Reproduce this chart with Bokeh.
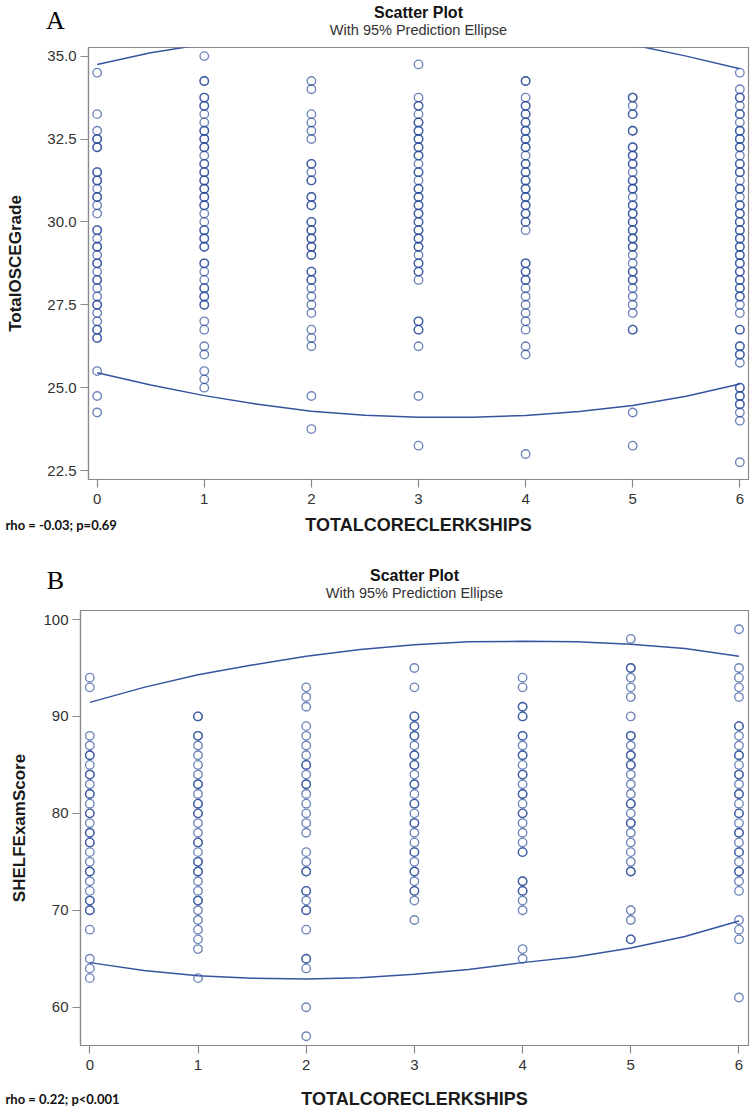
from bokeh.plotting import figure
from bokeh.models import ColumnDataSource, FixedTicker, Label, NumeralTickFormatter, Range1d
from bokeh.embed import file_html
from bokeh.resources import INLINE

# ---------------- data ----------------
clerkships = [0, 1, 2, 3, 4, 5, 6]

# Panel A: TotalOSCEGrade by number of core clerkships (duplicates = overlapping points)
osce_0 = [34.5, 33.25, 32.75, 32.5, 32.5, 32.25, 32.25, 31.5, 31.5, 31.25, 31.25, 31.0, 30.75, 30.75,
          30.5, 30.25, 29.75, 29.75, 29.5, 29.25, 29.25, 29.0, 28.75, 28.75, 28.5, 28.25, 28.25, 28.0,
          27.75, 27.5, 27.5, 27.25, 27.0, 26.75, 26.75, 26.5, 26.5, 25.5, 24.75, 24.25]
osce_1 = [35.0, 34.25, 34.25, 33.75, 33.75, 33.5, 33.5, 33.25, 33.0, 32.75, 32.75, 32.5, 32.5, 32.25,
          32.25, 32.0, 31.75, 31.75, 31.5, 31.5, 31.25, 31.25, 31.0, 31.0, 30.75, 30.75, 30.5, 30.5,
          30.25, 30.0, 29.75, 29.75, 29.5, 29.5, 29.25, 29.25, 28.75, 28.75, 28.5, 28.25, 28.0, 28.0,
          27.75, 27.75, 27.5, 27.5, 27.0, 26.75, 26.25, 26.0, 25.5, 25.25, 25.0]
osce_2 = [34.25, 34.0, 33.25, 33.0, 32.75, 32.5, 31.75, 31.75, 31.5, 31.25, 31.25, 30.75, 30.75, 30.5,
          30.5, 30.0, 30.0, 29.75, 29.75, 29.5, 29.5, 29.25, 29.25, 29.0, 29.0, 28.5, 28.5, 28.25,
          28.25, 28.0, 27.75, 27.5, 27.25, 26.75, 26.5, 26.25, 24.75, 23.75]
osce_3 = [34.75, 33.75, 33.5, 33.5, 33.25, 33.0, 33.0, 32.75, 32.75, 32.5, 32.5, 32.25, 32.25, 32.0,
          32.0, 31.75, 31.5, 31.5, 31.25, 31.0, 31.0, 30.75, 30.75, 30.5, 30.5, 30.25, 30.25, 30.0,
          30.0, 29.75, 29.75, 29.5, 29.5, 29.25, 29.25, 29.0, 28.75, 28.75, 28.5, 28.5, 28.25, 27.0,
          27.0, 26.75, 26.75, 26.25, 24.75, 23.25]
osce_4 = [34.25, 34.25, 33.75, 33.5, 33.5, 33.25, 33.25, 33.0, 33.0, 32.75, 32.75, 32.5, 32.5, 32.25,
          32.25, 32.0, 31.75, 31.75, 31.5, 31.5, 31.25, 31.25, 31.0, 31.0, 30.75, 30.75, 30.5, 30.5,
          30.25, 30.25, 30.0, 30.0, 29.75, 28.75, 28.75, 28.5, 28.5, 28.25, 28.25, 28.0, 27.75, 27.5,
          27.25, 27.0, 26.75, 26.25, 26.0, 23.0]
osce_5 = [33.75, 33.75, 33.5, 33.25, 33.25, 32.75, 32.75, 32.25, 32.25, 32.0, 32.0, 31.75, 31.75, 31.5,
          31.25, 31.25, 31.0, 31.0, 30.75, 30.5, 30.5, 30.25, 30.25, 30.0, 30.0, 29.75, 29.75, 29.5,
          29.5, 29.25, 29.25, 29.0, 28.75, 28.5, 28.5, 28.25, 28.25, 28.0, 27.75, 27.5, 27.25, 26.75,
          26.75, 24.25, 23.25]
osce_6 = [34.5, 34.0, 33.75, 33.75, 33.5, 33.25, 33.25, 33.0, 32.75, 32.75, 32.5, 32.5, 32.25, 32.25,
          32.0, 31.75, 31.75, 31.5, 31.5, 31.25, 31.0, 31.0, 30.75, 30.5, 30.5, 30.25, 30.25, 30.0,
          30.0, 29.75, 29.75, 29.5, 29.5, 29.25, 29.25, 29.0, 29.0, 28.75, 28.75, 28.5, 28.5, 28.25,
          28.25, 28.0, 28.0, 27.75, 27.75, 27.5, 27.25, 26.75, 26.75, 26.25, 26.25, 26.0, 26.0, 25.75,
          25.0, 25.0, 24.75, 24.75, 24.5, 24.5, 24.25, 24.0, 22.75]

# Panel B: SHELFExamScore by number of core clerkships
shelf_0 = [94, 93, 88, 87, 86, 86, 85, 84, 84, 83, 82, 82, 81, 80, 80, 79, 78, 78, 77, 77, 76, 75, 74,
           74, 73, 72, 71, 71, 70, 70, 68, 65, 64, 63]
shelf_1 = [90, 90, 88, 88, 87, 86, 85, 84, 83, 83, 82, 81, 81, 80, 80, 79, 78, 77, 77, 76, 75, 75, 74,
           74, 73, 72, 71, 71, 70, 69, 68, 67, 66, 63]
shelf_2 = [93, 92, 91, 89, 88, 87, 86, 85, 85, 84, 83, 83, 82, 81, 80, 79, 78, 76, 75, 74, 74, 72, 72,
           71, 70, 70, 68, 65, 65, 64, 60, 57]
shelf_3 = [95, 93, 90, 90, 89, 89, 88, 88, 87, 86, 86, 85, 85, 84, 83, 83, 82, 81, 81, 80, 79, 79, 78,
           77, 76, 76, 75, 74, 74, 73, 72, 72, 71, 69]
shelf_4 = [94, 93, 91, 91, 90, 90, 88, 88, 87, 86, 86, 85, 84, 84, 83, 82, 82, 81, 80, 80, 79, 78, 77,
           76, 76, 73, 73, 72, 72, 71, 70, 66, 65]
shelf_5 = [98, 95, 95, 94, 93, 92, 90, 88, 88, 87, 86, 86, 85, 85, 84, 83, 82, 81, 81, 80, 79, 79, 78,
           77, 76, 75, 74, 74, 70, 69, 67, 67]
shelf_6 = [99, 95, 94, 93, 92, 89, 89, 88, 87, 86, 86, 85, 84, 84, 83, 82, 82, 81, 80, 80, 79, 78, 78,
           77, 76, 76, 75, 74, 74, 73, 72, 69, 68, 67, 61]

# 95% prediction ellipse boundaries
ellipse_x = [0, 0.5, 1, 1.5, 2, 2.5, 3, 3.5, 4, 4.5, 5, 5.5, 6]
osce_upper = [34.75, 35.1, 35.36, 35.58, 35.75, 35.82, 35.85, 35.8, 35.72, 35.55, 35.34, 35.0, 34.62]
osce_lower = [25.45, 25.08, 24.76, 24.5, 24.29, 24.17, 24.11, 24.11, 24.16, 24.28, 24.46, 24.74, 25.11]
shelf_upper = [91.45, 93.0, 94.3, 95.3, 96.2, 96.9, 97.4, 97.7, 97.75, 97.7, 97.45, 97.0, 96.2]
shelf_lower = [64.6, 63.8, 63.25, 63.0, 62.9, 63.05, 63.4, 63.9, 64.6, 65.2, 66.1, 67.3, 68.9]

osce_ticks = [22.5, 25.0, 27.5, 30.0, 32.5, 35.0]
shelf_ticks = [60, 70, 80, 90, 100]

# ---------------- styling ----------------
BLUE = "#2a4b9a"
GRAY = "#8a8a8a"
SANS = "Liberation Sans"
W = 756


def long_form(columns):
    xs, ys = [], []
    for k, vals in zip(clerkships, columns):
        xs.extend([k] * len(vals))
        ys.extend(vals)
    return ColumnDataSource(dict(x=xs, y=ys))


def text_strip(h):
    """A figure with no axes whose frame fills the canvas (pixel-like coordinates, y down)."""
    t = figure(width=W, height=h, x_range=Range1d(0, W), y_range=Range1d(h, 0),
               output_backend="svg", toolbar_location=None,
               x_axis_location=None, y_axis_location=None,
               min_border_left=0, min_border_right=0, min_border_top=0, min_border_bottom=0)
    t.title_location = None
    t.outline_line_color = None
    t.xgrid.visible = False
    t.ygrid.visible = False
    t.background_fill_color = "white"
    t.border_fill_color = "white"
    return t


def header(letter, h, cx, title_y, sub_y, letter_y):
    t = text_strip(h)
    t.add_layout(Label(x=cx, y=title_y, text="Scatter Plot", text_font=SANS,
                       text_font_style="bold", text_font_size="16px", text_align="center",
                       text_baseline="middle", text_color="#111111"))
    t.add_layout(Label(x=cx, y=sub_y, text="With 95% Prediction Ellipse", text_font=SANS,
                       text_font_size="14.5px", text_align="center", text_baseline="middle",
                       text_color="#333333"))
    t.add_layout(Label(x=55, y=letter_y, text=letter, text_font="Liberation Serif",
                       text_font_size="26px", text_align="center", text_baseline="middle",
                       text_color="#000000"))
    return t


def footer(rho, h, cx, y):
    t = text_strip(h)
    t.add_layout(Label(x=5, y=y, text=rho, text_font="Lato", text_font_style="bold",
                       text_font_size="13px", text_align="left", text_baseline="middle",
                       text_color="#111111"))
    t.add_layout(Label(x=cx, y=y, text="TOTALCORECLERKSHIPS", text_font=SANS,
                       text_font_style="bold", text_font_size="18px", text_align="center",
                       text_baseline="middle", text_color="#1a1a1a"))
    return t


def main_panel(ycols, upper, lower, yticks, ylabel, x_range, y_range, h, left, bottom,
               ylab_standoff, fmt):
    p = figure(width=W, height=h, x_range=x_range, y_range=y_range,
               output_backend="svg", toolbar_location=None,
               min_border_left=left, min_border_right=8,
               min_border_top=0, min_border_bottom=bottom)
    p.title_location = None
    p.background_fill_color = "white"
    p.border_fill_color = "white"
    p.outline_line_color = GRAY
    p.outline_line_width = 1.2
    p.xgrid.visible = False
    p.ygrid.visible = False

    src = long_form(ycols)
    p.scatter("x", "y", source=src, marker="circle", size=8.5, fill_color=None,
              line_color=BLUE, line_alpha=0.68, line_width=1.35)
    p.line(ellipse_x, upper, line_color=BLUE, line_width=1.5, line_alpha=0.95)
    p.line(ellipse_x, lower, line_color=BLUE, line_width=1.5, line_alpha=0.95)

    for ax in (p.xaxis[0], p.yaxis[0]):
        ax.axis_line_color = GRAY
        ax.axis_line_width = 1.2
        ax.major_tick_line_color = GRAY
        ax.major_tick_line_width = 1.2
        ax.major_tick_out = 8
        ax.major_tick_in = 0
        ax.minor_tick_line_color = None
        ax.major_label_text_font = SANS
        ax.major_label_text_font_size = "15px"
        ax.major_label_text_color = "#333333"

    p.xaxis.ticker = FixedTicker(ticks=clerkships)
    p.xaxis.major_label_standoff = 6

    p.yaxis.ticker = FixedTicker(ticks=yticks)
    p.yaxis.formatter = NumeralTickFormatter(format=fmt)
    p.yaxis.major_label_standoff = 4
    p.yaxis.axis_label = ylabel
    p.yaxis.axis_label_text_font = SANS
    p.yaxis.axis_label_text_font_style = "bold"
    p.yaxis.axis_label_text_font_size = "17px"
    p.yaxis.axis_label_text_color = "#1a1a1a"
    p.yaxis.axis_label_standoff = ylab_standoff
    return p


# Panel A (page rows: 47 + 465 + 38)
ha = header("A", 47, 418, 12, 29, 20)
pa = main_panel([osce_0, osce_1, osce_2, osce_3, osce_4, osce_5, osce_6],
                osce_upper, osce_lower, osce_ticks, "TotalOSCEGrade",
                (-0.081, 6.081), (22.23, 35.26), 465, 88, 33, 19, "0.0")
fa = footer("rho = -0.03; p=0.69", 38, 418, 12)

# Panel B (page rows: 60 + 470 + 30)
hb = header("B", 60, 414, 25, 42, 30)
pb = main_panel([shelf_0, shelf_1, shelf_2, shelf_3, shelf_4, shelf_5, shelf_6],
                shelf_upper, shelf_lower, shelf_ticks, "SHELFExamScore",
                (-0.086, 6.088), (56.05, 100.93), 470, 80, 35, 11, "0")
fb = footer("rho = 0.22; p<0.001", 30, 414, 18)

# separate roots, stacked on the page without frame alignment
open("out.html", "w").write(file_html([ha, pa, fa, hb, pb, fb], INLINE))
